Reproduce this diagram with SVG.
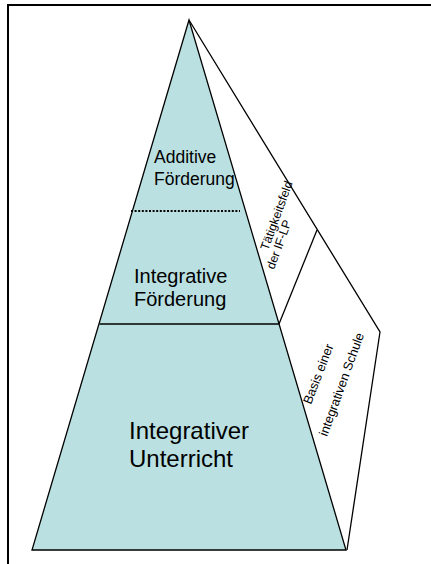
<svg xmlns="http://www.w3.org/2000/svg" width="431" height="564" viewBox="0 0 431 564">
<style>
.ln{fill:none;stroke:#000;stroke-width:1.3}
.t{font-family:"Liberation Sans",Arial,sans-serif;fill:#000}
</style>
<rect x="0" y="0" width="431" height="564" fill="#fff"/>
<rect id="frame" x="8" y="5" width="440" height="580" fill="none" stroke="#000" stroke-width="2"/>
<g id="pyramid">
<polygon points="189,20 32,550 346,550" fill="#BAE0E2" stroke="#000" stroke-width="1.3" stroke-linejoin="miter"/>
</g>
<g id="connectors">
<line class="ln" x1="99.5" y1="324" x2="279" y2="324"/>
<line x1="131" y1="211" x2="240" y2="211" stroke="#000" stroke-width="1.8" stroke-dasharray="2 1.6"/>
<polyline class="ln" points="189,20 380,332 347,550"/>
<line class="ln" x1="317" y1="230" x2="279" y2="324"/>
</g>
<g id="additive">
<text class="t" font-size="17.5" x="154" y="163">Additive</text>
<text class="t" font-size="17.5" x="154" y="185">Förderung</text>
</g>
<g id="integrative">
<text class="t" font-size="20" x="134" y="283">Integrative</text>
<text class="t" font-size="20" x="134" y="306">Förderung</text>
</g>
<g id="unterricht">
<text class="t" font-size="24" x="129" y="439">Integrativer</text>
<text class="t" font-size="24" x="129" y="467">Unterricht</text>
</g>
<g id="taetigkeitsfeld">
<text class="t" font-size="12.3" transform="translate(268,251) rotate(-70)">Tätigkeitsfeld</text>
<text class="t" font-size="12.3" transform="translate(274,270) rotate(-70)">der IF-LP</text>
</g>
<g id="basis">
<text class="t" font-size="12.8" transform="translate(311,405) rotate(-69)">Basis einer</text>
<text class="t" font-size="12.8" transform="translate(327,437) rotate(-70)">integrativen Schule</text>
</g>
</svg>
